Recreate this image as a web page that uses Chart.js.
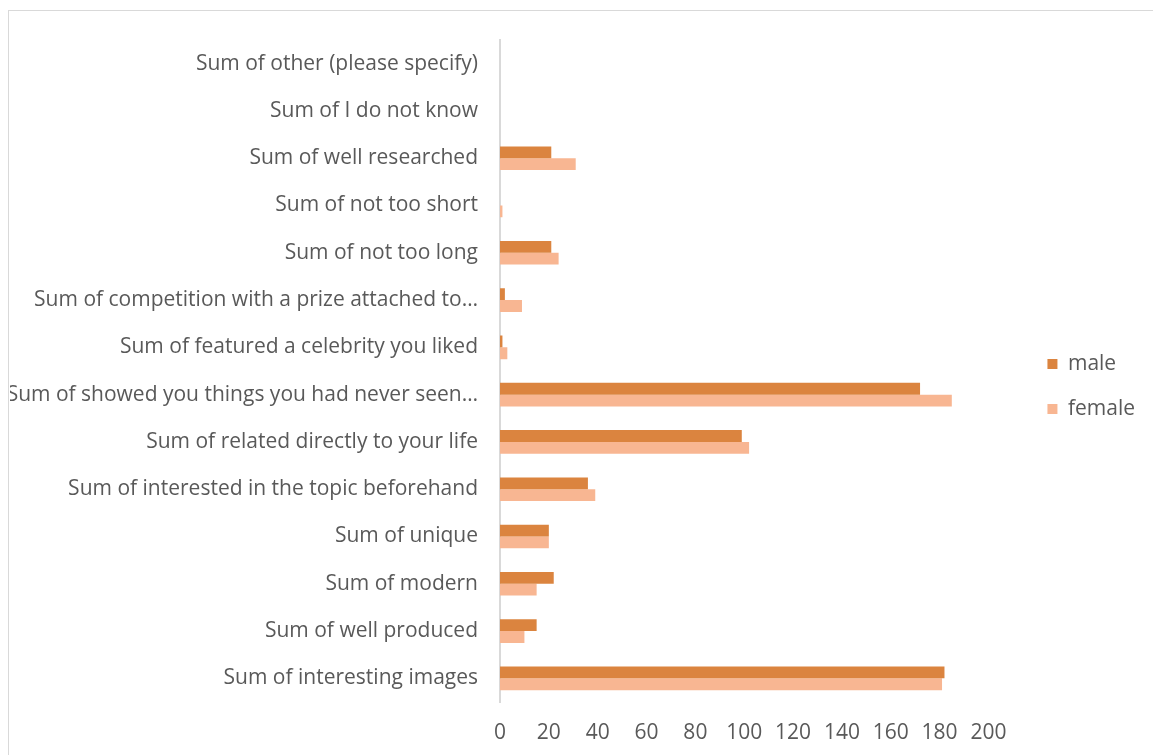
<!DOCTYPE html>
<html>
<head>
<meta charset="utf-8">
<script src="https://cdn.jsdelivr.net/npm/chart.js@4.4.1/dist/chart.umd.min.js"></script>
<style>
html,body{margin:0;padding:0;background:#fff;overflow:hidden;}
#wrap{position:absolute;left:0;top:0;width:1153px;height:755px;}
#frame{position:absolute;left:8px;top:10px;width:1160px;height:760px;border:1px solid #d9d9d9;pointer-events:none;}
</style>
</head>
<body>
<div id="wrap"><canvas id="c" width="1153" height="755"></canvas></div>
<div id="frame"></div>
<script>
const categories = [
  "Sum of other (please specify)",
  "Sum of I do not know",
  "Sum of well researched",
  "Sum of not too short",
  "Sum of not too long",
  "Sum of competition with a prize attached to…",
  "Sum of featured a celebrity you liked",
  "Sum of showed you things you had never seen…",
  "Sum of related directly to your life",
  "Sum of interested in the topic beforehand",
  "Sum of unique",
  "Sum of modern",
  "Sum of well produced",
  "Sum of interesting images"
];
const maleValues   = [0, 0, 21, 0, 21, 2, 1, 172, 99, 36, 20, 22, 15, 182];
const femaleValues = [0, 0, 31, 1, 24, 9, 3, 185, 102, 39, 20, 15, 10, 181];
const xTicks = [0, 20, 40, 60, 80, 100, 120, 140, 160, 180, 200];

const FONT = "'Open Sans', Lato, sans-serif";
const TXT = '#595959';

new Chart(document.getElementById('c'), {
  type: 'bar',
  data: {
    labels: categories,
    datasets: [
      { label: 'male', data: maleValues, backgroundColor: '#DB843F', categoryPercentage: 0.5, barPercentage: 1.0, yAxisID: 'y' },
      { label: 'female', data: femaleValues, backgroundColor: '#F8B692', categoryPercentage: 0.5, barPercentage: 1.0, yAxisID: 'y' }
    ]
  },
  options: {
    indexAxis: 'y',
    responsive: false,
    animation: false,
    devicePixelRatio: 1,
    layout: { padding: { left: 10, right: 8, top: 18, bottom: 0 } },
    plugins: {
      tooltip: { enabled: false },
      title: {
        display: true,
        text: ' ',
        font: { size: 10, lineHeight: 1.2 },
        padding: { top: 0, bottom: 10 }
      },
      legend: {
        position: 'right',
        align: 'center',
        labels: {
          color: TXT,
          boxWidth: 10,
          boxHeight: 10,
          padding: 24,
          font: { family: FONT, size: 21 }
        }
      }
    },
    scales: {
      x: {
        min: 0, max: 200,
        afterBuildTicks: (s) => { s.ticks = xTicks.map(v => ({ value: v })); },
        afterFit: (s) => { s.height = 53; },
        grid: { display: false, drawTicks: false },
        border: { display: false },
        ticks: { color: TXT, font: { family: FONT, size: 21 }, padding: 18, maxRotation: 0 }
      },
      y: {
        position: 'left',
        afterFit: (s) => { s.width = 490; },
        grid: { display: false, drawTicks: false },
        border: { display: true, color: '#d9d9d9', width: 2 },
        ticks: { color: TXT, font: { family: FONT, size: 21 }, padding: 22, autoSkip: false }
      },
      yGap: {
        type: 'category',
        position: 'right',
        display: true,
        afterFit: (s) => { s.width = 35; },
        grid: { display: false, drawTicks: false },
        border: { display: false },
        ticks: { display: false }
      }
    }
  }
});
</script>
</body>
</html>
